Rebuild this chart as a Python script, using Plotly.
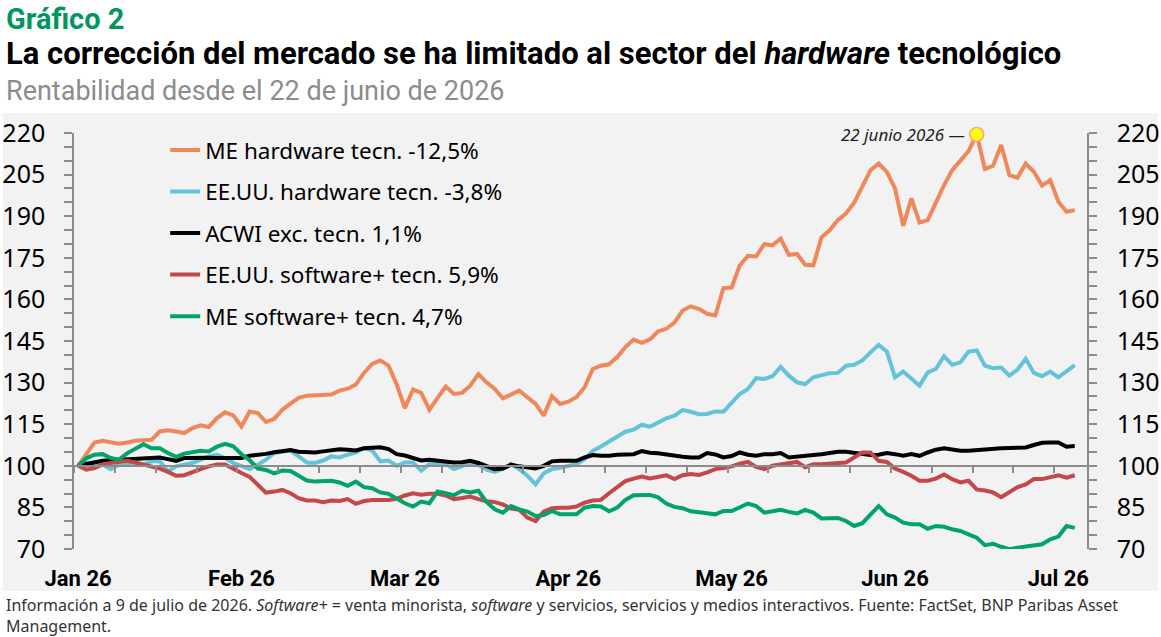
import plotly.graph_objects as go

# Rentabilidad base 100, datos diarios (días hábiles) desde enero 2026
me_hardware = [
    100, 104.5, 108.4, 109, 108.4, 108, 108.4, 109, 109.2, 109.4,
    112.4, 112.8, 112.4, 111.8, 113.6, 114.6, 114, 117.2, 119.3, 118.2,
    114.2, 119.6, 119, 115.8, 116.9, 120.2, 122.4, 124.5, 125.3, 125.4,
    125.4, 125.7, 127.1, 127.8, 129.3, 133.5, 136.7, 138, 136.1, 129.3,
    120.8, 127.5, 126.3, 120.2, 124.5, 128.6, 125.9, 126.3, 128.9, 133.1,
    130.1, 127.7, 124.3, 125.9, 127.1, 124.7, 122.3, 118.1, 125.1, 122.3,
    123.1, 124.7, 128.3, 134.9, 136.1, 136.6, 139.2, 142.8, 145.5, 144.3,
    145.6, 148.5, 149.4, 151.6, 156, 157.5, 156.6, 154.8, 154.2, 164.1,
    164.3, 172.3, 175.7, 175.5, 179.9, 179.5, 181.9, 176.1, 176.4, 172.5,
    172.3, 182.4, 184.9, 188.6, 191, 194.9, 201, 206.6, 209, 206,
    200, 186.5, 196.4, 187.7, 188.6, 195.2, 201.2, 206.6, 210.2, 213.5,
    219.5, 207, 208.2, 215.7, 204.8, 203.9, 209, 206, 201, 203,
    195.2, 191.6, 192.2,
]
us_hardware = [
    100, 101, 101.2, 100.5, 98.8, 100.4, 101, 101, 100.4, 101.6,
    101.6, 98, 99.8, 100.4, 101, 102.2, 103.4, 104, 102.8, 101,
    99.8, 98.8, 100.4, 102.2, 104.6, 105.2, 105.5, 103.4, 101.2, 101,
    101.9, 103.4, 103, 104, 104.8, 106.4, 105.5, 101.6, 101.9, 100,
    101.2, 101.2, 98.2, 100.7, 101, 100.6, 98.8, 99.9, 101, 100.4,
    98.6, 97.8, 99, 100.6, 98.8, 96.4, 93.3, 97.3, 98.8, 99.3,
    99.8, 100.6, 102.4, 105.4, 107, 108.7, 110.6, 112.3, 113, 114.8,
    114.1, 115.5, 117.1, 118.1, 120.1, 119.5, 118.6, 118.7, 119.6, 119.5,
    122.9, 125.9, 127.7, 131.6, 131.3, 132.3, 135.7, 132.5, 130.1, 129.4,
    131.9, 132.5, 133.4, 133.5, 136.1, 136.4, 138, 140.9, 143.6, 141.2,
    131.9, 134, 131.6, 128.9, 133.7, 134.9, 139.5, 136.4, 137.3, 141.2,
    141.6, 136.1, 135.2, 135.4, 132.5, 134.7, 138.6, 133.5, 132.3, 134,
    131.9, 134.3, 136.3,
]
acwi_ex_tech = [
    100, 100.7, 101.2, 101.8, 102, 102.2, 102.2, 102.4, 102.7, 103,
    103, 102.4, 101.8, 102.8, 102.9, 103, 102.9, 102.8, 102.7, 102.8,
    102.8, 103.6, 103.8, 104.3, 104.9, 105.4, 105.7, 105.1, 104.8, 104.8,
    105.2, 105.7, 106, 105.8, 105.5, 106.3, 106.5, 106.7, 106, 104.2,
    103.7, 102.8, 101.9, 102.2, 101.9, 101.5, 101.2, 101.3, 101.8, 101,
    99.8, 98.8, 99, 100.4, 99.8, 99.3, 99, 100, 101.6, 101.8,
    101.8, 101.8, 103, 103.9, 103.6, 103.6, 104, 104.2, 104.2, 105.3,
    104.7, 104.5, 104, 103.6, 103.3, 103, 103, 104.6, 104.1, 103,
    103.5, 104.8, 104, 103.6, 104.2, 104.2, 104.6, 103, 103.4, 103.6,
    103.9, 104.2, 104.8, 105.1, 105.1, 104.8, 104.2, 103.9, 104, 104.6,
    104.2, 103.6, 104.2, 103.6, 104.8, 105.8, 106.3, 105.7, 105.4, 105.4,
    105.7, 105.8, 106, 106.3, 106.4, 106.6, 106.6, 107.5, 108.3, 108.4,
    108.4, 106.9, 107.1,
]
us_software = [
    100, 98.6, 99.2, 100.5, 101, 101.3, 101.8, 101.2, 100.4, 99.6,
    99, 97.8, 96.4, 96.6, 97.8, 98.8, 99.8, 100.5, 100.5, 98.8,
    97.4, 96, 93.3, 90.3, 90.7, 91.3, 90.1, 88.3, 87.5, 87.5,
    86.9, 87.5, 87.3, 88, 86.3, 87.3, 87.7, 87.7, 87.7, 88.1,
    89.3, 90.1, 89.6, 89.9, 89.9, 89.3, 88, 88.4, 88.9, 88,
    87.2, 86.9, 86.1, 84.6, 84.1, 81.3, 80.1, 83.5, 84.7, 84.9,
    84.9, 85.3, 86.7, 87.5, 87.7, 90.1, 92.2, 94.5, 95.4, 96.1,
    95.4, 96, 96.6, 95.2, 96.6, 97, 96.7, 97.6, 98.8, 99.2,
    99.8, 100.8, 101.4, 99.6, 98.8, 100, 100.5, 100.7, 101.4, 99.5,
    100.6, 100.6, 100.7, 101, 101.2, 103, 104.8, 104.8, 101.8, 101.4,
    99, 97.8, 96.4, 94.6, 94.6, 95.4, 96.9, 95.2, 94, 94.6,
    91.5, 91.1, 90.4, 88.7, 90.6, 92.3, 93.3, 95.2, 95.2, 96,
    96.6, 95.7, 96.6,
]
me_software = [
    100, 102.7, 104, 104.2, 102.8, 102.2, 104.5, 106.2, 107.8, 106.3,
    106.3, 104.6, 103.2, 104.4, 104.9, 105.4, 105.2, 106.9, 107.9, 107,
    104.2, 102, 99, 98.5, 97.3, 98.3, 98.1, 96.4, 94.7, 94.3,
    94.5, 94.6, 94, 92.8, 94.3, 92.3, 91.9, 90.4, 89.9, 88,
    86.5, 85.3, 87.1, 86.5, 90.7, 90.1, 89.4, 91, 90.4, 91,
    87, 84.3, 83.1, 85.5, 84.3, 83.5, 81.9, 82.2, 83.7, 82.5,
    82.5, 82.5, 84.9, 85.5, 85.3, 83.6, 84.9, 87.7, 89.4, 89.4,
    89.5, 88.6, 86.4, 85.2, 84.7, 83.6, 83.1, 82.9, 82.5, 83.7,
    83.7, 84.9, 86.4, 85.5, 83.1, 83.6, 84.1, 83.4, 82.8, 84.1,
    83.1, 81, 81.2, 81.2, 80.1, 78.3, 79.3, 82.5, 85.5, 82.5,
    81.3, 79.5, 78.9, 78.9, 77.3, 78.3, 78, 77.1, 76.5, 75.3,
    74.1, 71.4, 71.9, 70.8, 69.9, 70.5, 71, 71.4, 71.7, 73.5,
    74.5, 78.3, 77.6,
]

day_idx = list(range(len(me_hardware)))
month_ticks = [0, 20, 40, 60, 80, 100, 120]
month_labels = ['Jan 26', 'Feb 26', 'Mar 26', 'Apr 26', 'May 26', 'Jun 26', 'Jul 26']
peak_idx = 110  # 22 junio 2026

series = [
    ('ME hardware tecn. -12,5%', me_hardware, '#F0875A'),
    ('EE.UU. hardware tecn. -3,8%', us_hardware, '#64C3DA'),
    ('ACWI exc. tecn. 1,1%', acwi_ex_tech, '#000000'),
    ('EE.UU. software+ tecn. 5,9%', us_software, '#C4474A'),
    ('ME software+ tecn. 4,7%', me_software, '#00A46A'),
]

fig = go.Figure()
for i, (name, vals, color) in enumerate(series):
    fig.add_trace(go.Scatter(x=day_idx, y=vals, mode='lines', name=name,
                             legendgroup=f'g{i}',
                             line=dict(color=color, width=4)))

# marker del 22 de junio
fig.add_trace(go.Scatter(x=[peak_idx], y=[me_hardware[peak_idx]], mode='markers',
                         xaxis='x2', yaxis='y2', showlegend=False, cliponaxis=False,
                         marker=dict(color='#FFFF00', size=14,
                                     line=dict(color='#F4A582', width=1.5))))

axis_grey = '#8C8C8C'
font_main = 'Noto Sans'

y_common = dict(range=[70, 220], tick0=70, dtick=15,
                showline=True, linecolor=axis_grey, linewidth=1.5,
                ticks='outside', ticklen=8, tickcolor=axis_grey, tickwidth=1.5,
                minor=dict(dtick=5, tick0=70, ticks='outside', ticklen=8,
                           tickcolor=axis_grey, tickwidth=1.5),
                tickfont=dict(size=25, family=font_main),
                showgrid=False, zeroline=False, automargin=False)

fig.update_layout(
    width=1161, height=637,
    margin=dict(l=74, r=74, t=133, b=88, autoexpand=False),
    paper_bgcolor='white',
    plot_bgcolor='rgba(0,0,0,0)',
    font=dict(family=font_main, color='#000000'),
    xaxis=dict(range=[-0.5, 123.5], tickvals=month_ticks,
               ticktext=[f'<b>{m}</b>' for m in month_labels],
               tickfont=dict(size=22, family='Roboto'),
               showline=False, showgrid=False, zeroline=False, ticks='',
               ticklabelstandoff=14, automargin=False),
    xaxis2=dict(overlaying='x', matches='x', anchor='free', position=0.2,
                showline=True, linecolor=axis_grey, linewidth=1.5,
                ticks='outside', ticklen=6, tickcolor=axis_grey, tickwidth=1.5,
                tick0=-0.5, dtick=5, showticklabels=False,
                showgrid=False, zeroline=False, automargin=False),
    yaxis=dict(**y_common, ticklabelstandoff=14),
    yaxis2=dict(**y_common, overlaying='y', matches='y', side='right', anchor='x',
                ticklabelstandoff=15),
    legend=dict(x=0.09, y=1.01, xanchor='left', yanchor='top',
                bgcolor='rgba(0,0,0,0)', font=dict(size=22.5, family=font_main),
                tracegroupgap=9.3, itemwidth=30),
    showlegend=True,
)

# fondo gris del bloque del gráfico
fig.add_shape(type='rect', xref='paper', yref='paper',
              x0=-0.070, x1=1.070, y0=-0.101, y1=1.048,
              fillcolor='#F2F2F2', line=dict(width=0), layer='below')

fig.add_annotation(x=peak_idx, y=me_hardware[peak_idx], xref='x', yref='y',
                   text='<i>22 junio 2026 —</i>', showarrow=False,
                   xanchor='right', yanchor='middle', xshift=-10,
                   font=dict(size=17, family=font_main, color='#222222'))

# títulos
fig.add_annotation(x=-0.069, y=1.274, xref='paper', yref='paper',
                   text='<b>Gráfico 2</b>', showarrow=False,
                   xanchor='left', yanchor='middle',
                   font=dict(size=29, family='Roboto', color='#00965E'))
fig.add_annotation(x=-0.069, y=1.192, xref='paper', yref='paper',
                   text='<b>La corrección del mercado se ha limitado al sector del <i>hardware</i> tecnológico</b>',
                   showarrow=False, xanchor='left', yanchor='middle',
                   font=dict(size=31, family='Roboto', color='#000000'))
fig.add_annotation(x=-0.069, y=1.101, xref='paper', yref='paper',
                   text='Rentabilidad desde el 22 de junio de 2026',
                   showarrow=False, xanchor='left', yanchor='middle',
                   font=dict(size=27, family='Roboto', color='#8C8C8C'))

# nota al pie (dos líneas)
footer_lines = [
    'Información a 9 de julio de 2026. <i>Software+</i> = venta minorista, '
    '<i>software</i> y servicios, servicios y medios interactivos. '
    'Fuente: FactSet, BNP Paribas Asset',
    'Management.',
]
for k, line in enumerate(footer_lines):
    fig.add_annotation(x=-0.069, y=(549 - (605 + 20.5 * k)) / 416,
                       xref='paper', yref='paper', text=line,
                       showarrow=False, xanchor='left', yanchor='middle', align='left',
                       font=dict(size=16, family=font_main, color='#333333'))

fig.write_html('out.html', config={'displayModeBar': False},
               post_script="document.body.style.margin='0';")
